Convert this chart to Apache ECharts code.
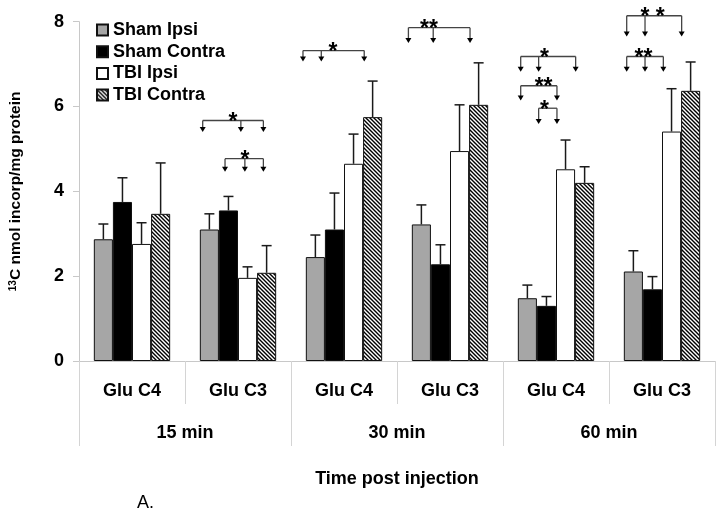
<!DOCTYPE html>
<html><head><meta charset="utf-8">
<script src="https://cdn.jsdelivr.net/npm/echarts@6/dist/echarts.min.js"></script>
<style>html,body{margin:0;padding:0;background:#fff}#c{width:719px;height:515px}</style>
</head><body><div id="c"></div>
<script>
const categories = ['Glu C4','Glu C3','Glu C4','Glu C3','Glu C4','Glu C3'];
const timeLabels = ['15 min','30 min','60 min'];
const seriesNames = ['Sham Ipsi','Sham Contra','TBI Ipsi','TBI Contra'];
const yTicks = [0, 2, 4, 6, 8];

const shamIpsi   = [2.87, 3.10, 2.45, 3.22, 1.48, 2.11];
const shamContra = [3.75, 3.55, 3.10, 2.28, 1.30, 1.69];
const tbiIpsi    = [2.76, 1.96, 4.65, 4.95, 4.52, 5.41];
const tbiContra  = [3.47, 2.08, 5.75, 6.04, 4.20, 6.37];

const shamIpsiErr   = [0.36, 0.37, 0.52, 0.46, 0.31, 0.49];
const shamContraErr = [0.57, 0.33, 0.86, 0.46, 0.22, 0.30];
const tbiIpsiErr    = [0.50, 0.26, 0.70, 1.09, 0.69, 1.01];
const tbiContraErr  = [1.20, 0.64, 0.85, 0.99, 0.38, 0.68];

// significance brackets: category, bracket level, arrow tip level, arrow bar slots, stars, star slot
const bracketCat   = [1, 1, 2, 3, 4, 4, 4, 5, 5];
const bracketLevel = [5.67, 4.77, 7.32, 7.86, 7.18, 6.49, 5.96, 8.14, 7.18];
const bracketTip   = [5.40, 4.46, 7.06, 7.50, 6.82, 6.14, 5.59, 7.65, 6.82];
const bracketArrows = [[-0.35,1.65,2.83],[0.82,1.86,2.83],[-0.65,0.31,2.56],[-0.68,0.62,2.55],
                       [-0.35,0.59,2.53],[-0.35,1.55],[0.59,1.55],[-0.35,0.61,2.53],[-0.35,0.61,1.57]];
const bracketStars   = ['*','*','*','**','*','**','*','* *','**'];
const bracketStarPos = [1.24, 1.87, 0.92, 0.40, 0.90, 0.85, 0.90, 1.01, 0.53];

const values = [shamIpsi, shamContra, tbiIpsi, tbiContra];
const errs = [shamIpsiErr, shamContraErr, tbiIpsiErr, tbiContraErr];

const FONT = 'Liberation Sans, Arial, sans-serif';
const BARW = 0.18;

// hatch pattern
const pc = document.createElement('canvas');
pc.width = 4; pc.height = 4;
const pctx = pc.getContext('2d');
pctx.fillStyle = '#fff'; pctx.fillRect(0,0,4,4);
pctx.strokeStyle = '#000'; pctx.lineWidth = 1.4;
pctx.beginPath();
pctx.moveTo(-1,-1); pctx.lineTo(5,5);
pctx.moveTo(-1,3); pctx.lineTo(1,5);
pctx.moveTo(3,-1); pctx.lineTo(5,1);
pctx.stroke();

const fills = ['#a6a6a6', '#000000', '#ffffff', {image: pc, repeat: 'repeat'}];

const barSeries = seriesNames.map((n, k) => ({
  name: n, type: 'bar', xAxisIndex: 0, barWidth: (BARW*100) + '%', barGap: '0%',
  data: values[k],
  itemStyle: {color: fills[k], borderColor: '#111', borderWidth: 1},
  silent: true
}));

const errData = [];
values.forEach((arr, k) => arr.forEach((v, i) => errData.push([i, k, v, errs[k][i]])));

const errSeries = {
  type: 'custom', xAxisIndex: 0, clip: false, silent: true, z: 5,
  data: errData, encode: {x: 0, y: 2},
  renderItem(params, api) {
    const cat = api.value(0), k = api.value(1), v = api.value(2), e = api.value(3);
    const bw = api.size([1, 0])[0] * BARW;
    const base = api.coord([cat, v]);
    const x = base[0] + (k - 1.5) * bw;
    const yTop = api.coord([cat, v + e])[1];
    const st = {stroke: '#1a1a1a', lineWidth: 1.5};
    return {type: 'group', children: [
      {type: 'line', shape: {x1: x, y1: base[1], x2: x, y2: yTop}, style: st},
      {type: 'line', shape: {x1: x - 5, y1: yTop, x2: x + 5, y2: yTop}, style: st}
    ]};
  }
};

const brData = bracketCat.map((c, i) => [c, i, bracketLevel[i]]);
const brSeries = {
  type: 'custom', xAxisIndex: 0, clip: false, silent: true, z: 6,
  data: brData, encode: {x: 0, y: 2},
  renderItem(params, api) {
    const cat = api.value(0), i = api.value(1);
    const bw = api.size([1, 0])[0] * BARW;
    const c = api.coord([cat, bracketLevel[i]]);
    const tipY = api.coord([cat, bracketTip[i]])[1];
    const xs = bracketArrows[i].map(s => c[0] + (s - 1.5) * bw);
    const st = {stroke: '#444', lineWidth: 1.3};
    const ch = [{type: 'line', shape: {x1: xs[0], y1: c[1], x2: xs[xs.length-1], y2: c[1]}, style: st}];
    xs.forEach(x => {
      ch.push({type: 'line', shape: {x1: x, y1: c[1], x2: x, y2: tipY - 4}, style: st});
      ch.push({type: 'polygon', shape: {points: [[x - 3, tipY - 5], [x + 3, tipY - 5], [x, tipY]]}, style: {fill: '#000'}});
    });
    const sx = c[0] + (bracketStarPos[i] - 1.5) * bw;
    ch.push({type: 'text', x: sx, y: c[1] + 2, style: {text: bracketStars[i], font: 'bold 23px ' + FONT, fill: '#000', align: 'center', verticalAlign: 'middle'}});
    return {type: 'group', children: ch};
  }
};

const chart = echarts.init(document.getElementById('c'), null, {renderer: 'canvas'});
chart.setOption({
  animation: false,
  backgroundColor: '#fff',
  textStyle: {fontFamily: FONT},
  grid: {left: 78, right: 4, top: 21.7, bottom: 154, containLabel: false},
  legend: {
    data: seriesNames, orient: 'vertical', left: 96, top: 21, padding: 0,
    itemWidth: 11, itemHeight: 11, itemGap: 3.7, icon: 'rect',
    textStyle: {fontFamily: FONT, fontWeight: 'bold', fontSize: 18, color: '#000'}
  },
  xAxis: [
    {type: 'category', data: categories, position: 'bottom',
     axisLine: {lineStyle: {color: '#c8c8c8', width: 1}},
     axisTick: {show: true, interval: 0, length: 43, lineStyle: {color: '#d4d4d4'}},
     axisLabel: {interval: 0, margin: 21, fontFamily: FONT, fontWeight: 'bold', fontSize: 18, color: '#000'}},
    {type: 'category', data: timeLabels, position: 'bottom',
     axisLine: {lineStyle: {color: '#c8c8c8', width: 1}},
     axisTick: {show: true, interval: 0, length: 85, lineStyle: {color: '#d4d4d4'}},
     axisLabel: {interval: 0, margin: 63, fontFamily: FONT, fontWeight: 'bold', fontSize: 18, color: '#000'},
     name: 'Time post injection', nameLocation: 'middle', nameGap: 109,
     nameTextStyle: {fontFamily: FONT, fontWeight: 'bold', fontSize: 18, color: '#000'}}
  ],
  yAxis: {
    type: 'value', min: yTicks[0], max: yTicks[yTicks.length-1], interval: 2,
    axisLine: {show: true, lineStyle: {color: '#c8c8c8'}},
    axisTick: {show: true, length: 6, lineStyle: {color: '#c8c8c8'}},
    splitLine: {show: false},
    axisLabel: {margin: 15, fontFamily: FONT, fontWeight: 'bold', fontSize: 18, color: '#000'},
    name: '{sup|13}C nmol incorp/mg protein', nameLocation: 'middle', nameGap: 55, nameRotate: 90,
    nameTextStyle: {fontFamily: FONT, fontWeight: 'bold', fontSize: 15.5, color: '#000',
      rich: {sup: {fontFamily: FONT, fontWeight: 'bold', fontSize: 10, color: '#000', verticalAlign: 'top', padding: [0, 0, 6, 0]}}}
  },
  graphic: [{type: 'text', left: 137, top: 494, style: {text: 'A.', font: '18px ' + FONT, fill: '#000'}}],
  series: [...barSeries, errSeries, brSeries]
});
</script></body></html>
